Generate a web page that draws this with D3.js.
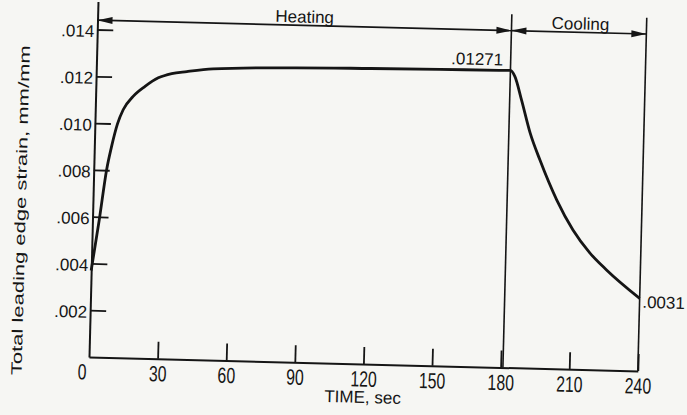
<!DOCTYPE html>
<html>
<head>
<meta charset="utf-8">
<script src="https://cdn.jsdelivr.net/npm/d3@7/dist/d3.min.js"></script>
<style>
  html, body { margin: 0; padding: 0; background: #f6f6f3; }
  svg { display: block; font-family: "Liberation Sans", Arial, sans-serif; }
</style>
</head>
<body>
<script>
// Time (sec) and total leading edge strain (mm/mm)
var timeSec = [0, 3, 5.6, 7.5, 9.9, 12.2, 16.4, 21.5, 27.2, 33, 39.6, 51, 85, 120, 150, 176, 181,
               183, 186.2, 190.3, 194.9, 202.7, 210.1, 217.7, 225.2, 240];
var strain  = [.0037, .0059, .0080, .0090, .0100, .0106, .01118, .01162, .0120, .0122, .0123, .01244, .01257, .01263, .01267, .01269, .0127,
               .01245, .01144, .01005, .0089, .00721, .00595, .00499, .00428, .0031];

var xTicks = [0, 30, 60, 90, 120, 150, 180, 210, 240];
var yTicks = [.002, .004, .006, .008, .010, .012, .014];

// phases: heating up to the cut-off, then cooling
var phases = [
  {label: "Heating", start: 0, end: 181},
  {label: "Cooling", start: 181, end: 240}
];
var notes = [
  {text: ".01271", t: 177.7, v: .0129, anchor: "end"},
  {text: ".0031", t: 241.2, v: .0027, anchor: "start"}
];

var W = 687, H = 415;
var origin = {x: 89, y: 357},
  tilt = 1.45, // the scan sits slightly rotated
  ink = "#151515";

var svg = d3.select("body").append("svg")
  .attr("width", W)
  .attr("height", H);

svg.append("rect").attr("width", W).attr("height", H).attr("fill", "#f6f6f3");

var g = svg.append("g")
  .attr("transform", "translate(" + origin.x + "," + origin.y + ") rotate(" + tilt + ")");

var x = d3.scaleLinear().domain([0, 240]).range([0, 549]);
var y = d3.scaleLinear().domain([0, .0152]).range([0, -23.4 * 15.2]);

// X axis, ticks pointing up into the plot
var xAxis = g.append("g")
  .call(d3.axisBottom(x)
    .tickValues(xTicks)
    .tickSizeInner(-17)
    .tickSizeOuter(0)
    .tickPadding(7)
    .tickFormat(d3.format("d")));

xAxis.select(".domain").attr("stroke", ink).attr("stroke-width", 2);
xAxis.selectAll(".tick line").attr("stroke", ink).attr("stroke-width", 1.8)
  .filter(function(d) { return d === 0; }).remove();
xAxis.selectAll(".tick text")
  .attr("fill", ink)
  .style("font-size", "22px")
  .style("font-family", "'Liberation Sans', Arial, sans-serif")
  .attr("transform", function(d) { return "translate(" + (d === 0 ? -7 : 0) + ",0) scale(0.72,1)"; });

// Y axis, ticks pointing right into the plot
var yAxis = g.append("g")
  .call(d3.axisLeft(y)
    .tickValues(yTicks)
    .tickSizeInner(-16)
    .tickSizeOuter(0)
    .tickPadding(3)
    .tickFormat(function(d) { return d3.format(".3f")(d).replace(/^0/, ""); }));

yAxis.select(".domain").attr("stroke", ink).attr("stroke-width", 2);
yAxis.selectAll(".tick line").attr("stroke", ink).attr("stroke-width", 1.8);
yAxis.selectAll(".tick text")
  .attr("fill", ink)
  .attr("dy", "0.42em")
  .style("font-size", "17px")
  .style("font-family", "'Liberation Sans', Arial, sans-serif");

// phase boundaries
g.selectAll(".bound")
  .data([181, 240])
  .enter().append("line")
  .attr("class", "bound")
  .attr("x1", function(d) { return x(d); })
  .attr("x2", function(d) { return x(d); })
  .attr("y1", y(0))
  .attr("y2", y(.0151))
  .attr("stroke", ink)
  .attr("stroke-width", 1.6);

// phase arrows
var arrowV = .0144;
function head(t, dir) {
  var px = x(t), py = y(arrowV);
  return "M" + px + "," + py +
    "L" + (px - dir * 15) + "," + (py - 3.5) +
    "L" + (px - dir * 15) + "," + (py + 3.5) + "Z";
}

phases.forEach(function(p) {
  g.append("line")
    .attr("x1", x(p.start)).attr("x2", x(p.end))
    .attr("y1", y(arrowV)).attr("y2", y(arrowV))
    .attr("stroke", ink)
    .attr("stroke-width", 1.6);
  g.append("path").attr("d", head(p.start, -1)).attr("fill", ink);
  g.append("path").attr("d", head(p.end, 1)).attr("fill", ink);
  g.append("text")
    .attr("x", x(p.start + (p.end - p.start) / 2 + (p.label === "Heating" ? 0 : 0.6)))
    .attr("y", y(.01452))
    .attr("text-anchor", "middle")
    .attr("fill", ink)
    .style("font-size", "17px")
    .text(p.label);
});

// strain curve
var line = d3.line()
  .x(function(d, i) { return x(timeSec[i]); })
  .y(function(d) { return y(d); })
  .curve(d3.curveMonotoneX);

g.append("path")
  .datum(strain)
  .attr("d", line)
  .attr("fill", "none")
  .attr("stroke", ink)
  .attr("stroke-width", 2.8)
  .attr("stroke-linejoin", "round");

// value notes
g.selectAll(".note")
  .data(notes)
  .enter().append("text")
  .attr("class", "note")
  .attr("x", function(d) { return x(d.t); })
  .attr("y", function(d) { return y(d.v); })
  .attr("text-anchor", function(d) { return d.anchor; })
  .attr("fill", ink)
  .style("font-size", "17px")
  .text(function(d) { return d.text; });

// axis titles
g.append("text")
  .attr("x", x(120))
  .attr("y", 39)
  .attr("text-anchor", "middle")
  .attr("fill", ink)
  .style("font-size", "17px")
  .text("TIME, sec");

g.append("text")
  .attr("transform", "translate(-67," + y(.0062) + ") rotate(-90)")
  .attr("text-anchor", "middle")
  .attr("fill", ink)
  .attr("textLength", 330)
  .attr("lengthAdjust", "spacingAndGlyphs")
  .style("font-size", "15px")
  .text("Total leading edge strain,  mm/mm");
</script>
</body>
</html>
